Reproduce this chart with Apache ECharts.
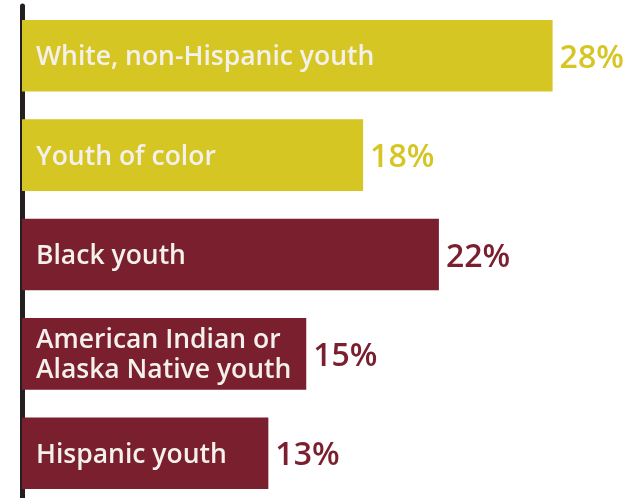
<!DOCTYPE html>
<html>
<head>
<meta charset="utf-8">
<script src="https://cdn.jsdelivr.net/npm/echarts@6/dist/echarts.min.js"></script>
<style>
  html, body { margin: 0; padding: 0; background: #fff; }
  #chart { width: 644px; height: 498px; }
</style>
</head>
<body>
<div id="chart"></div>
<script>
var categories = ['White, non-Hispanic youth', 'Youth of color', 'Black youth', 'American Indian or\nAlaska Native youth', 'Hispanic youth'];
var values = [28, 18, 22, 15, 13];

var yellow = '#d5c624';
var maroon = '#7a1f2e';
var barColors = [yellow, yellow, maroon, maroon, maroon];

var myChart = echarts.init(document.getElementById('chart'));
var option = {
    animation: false,
    grid: { left: 22, width: 568.5, top: 6, height: 497, outerBoundsMode: 'none' },
    xAxis: {
        type: 'value',
        min: 0,
        max: 30,
        show: false
    },
    yAxis: {
        type: 'category',
        inverse: true,
        data: categories,
        offset: 3,
        axisLine: { show: true, lineStyle: { color: '#231f20', width: 5 } },
        axisTick: { show: false },
        axisLabel: { show: false }
    },
    series: [
        {
            type: 'bar',
            barWidth: '72%',
            data: values.map(function (v, i) {
                return {
                    value: v,
                    itemStyle: { color: barColors[i] },
                    label: { color: barColors[i] }
                };
            }),
            label: {
                show: true,
                position: 'right',
                distance: 7,
                offset: [0, 3],
                fontFamily: 'Open Sans',
                fontWeight: 600,
                fontSize: 32,
                formatter: '{c}%'
            }
        },
        {
            type: 'bar',
            barWidth: '72%',
            barGap: '-100%',
            silent: true,
            itemStyle: { color: 'transparent' },
            data: values,
            label: {
                show: true,
                position: 'insideLeft',
                distance: 14,
                offset: [0, 2],
                fontFamily: 'Open Sans',
                fontWeight: 600,
                fontSize: 26.5,
                lineHeight: 30,
                color: '#f4f1ec',
                formatter: function (p) { return categories[p.dataIndex]; }
            }
        }
    ]
};
myChart.setOption(option);
</script>
</body>
</html>
